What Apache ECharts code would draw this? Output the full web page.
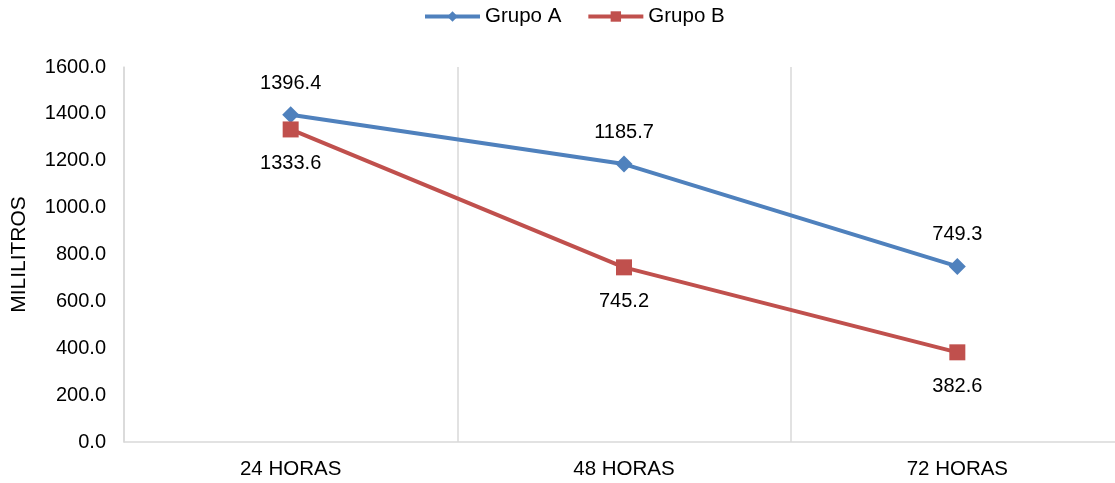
<!DOCTYPE html>
<html>
<head>
<meta charset="utf-8">
<script src="https://cdn.jsdelivr.net/npm/echarts@6/dist/echarts.min.js"></script>
<style>
html,body{margin:0;padding:0;background:#fff;overflow:hidden;}
#c{width:1124px;height:483px;}
</style>
</head>
<body>
<div id="c"></div>
<script>
const categories = ['24 HORAS', '48 HORAS', '72 HORAS'];
const grupoA = [1396.4, 1185.7, 749.3];
const grupoB = [1333.6, 745.2, 382.6];
const seriesNames = ['Grupo A', 'Grupo B'];
const yAxisName = 'MILILITROS';

const FONT = '"Liberation Sans", Arial, sans-serif';
const chart = echarts.init(document.getElementById('c'), null, {renderer: 'canvas'});
chart.setOption({
  animation: false,
  textStyle: {fontFamily: FONT},
  legend: {
    top: 1,
    left: 418,
    itemWidth: 55,
    itemHeight: 13,
    itemGap: 25,
    lineStyle: {width: 4},
    textStyle: {fontSize: 20.5, color: '#000', fontFamily: FONT},
    data: seriesNames
  },
  grid: {left: 124, right: 0, top: 67, bottom: 41, containLabel: false},
  xAxis: {
    type: 'category',
    data: categories,
    boundaryGap: true,
    axisLine: {show: true, lineStyle: {color: '#d9d9d9', width: 1.5}},
    axisTick: {show: false},
    splitLine: {show: true, lineStyle: {color: '#d9d9d9', width: 1.5}},
    axisLabel: {fontSize: 20.5, color: '#000', margin: 17, fontFamily: FONT}
  },
  yAxis: {
    type: 'value',
    min: 0, max: 1600, interval: 200,
    name: yAxisName,
    nameLocation: 'middle',
    nameRotate: 90,
    nameGap: 94,
    nameTextStyle: {fontSize: 21, color: '#000', fontFamily: FONT},
    axisLine: {show: true, lineStyle: {color: '#d9d9d9', width: 1.5}},
    axisTick: {show: false},
    splitLine: {show: false},
    axisLabel: {fontSize: 20, color: '#000', margin: 18, fontFamily: FONT,
      formatter: v => v.toFixed(1)}
  },
  series: [
    {
      name: seriesNames[0], type: 'line', data: grupoA,
      symbol: 'diamond', symbolSize: 17,
      itemStyle: {color: '#4F81BD'},
      lineStyle: {color: '#4F81BD', width: 4},
      label: {show: true, position: 'top', distance: 13, fontSize: 20, color: '#000', fontFamily: FONT,
        formatter: p => p.value.toFixed(1)}
    },
    {
      name: seriesNames[1], type: 'line', data: grupoB,
      symbol: 'rect', symbolSize: 16,
      itemStyle: {color: '#C0504D'},
      lineStyle: {color: '#C0504D', width: 4},
      label: {show: true, position: 'bottom', distance: 16, fontSize: 20, color: '#000', fontFamily: FONT,
        formatter: p => p.value.toFixed(1)}
    }
  ]
});
</script>
</body>
</html>
